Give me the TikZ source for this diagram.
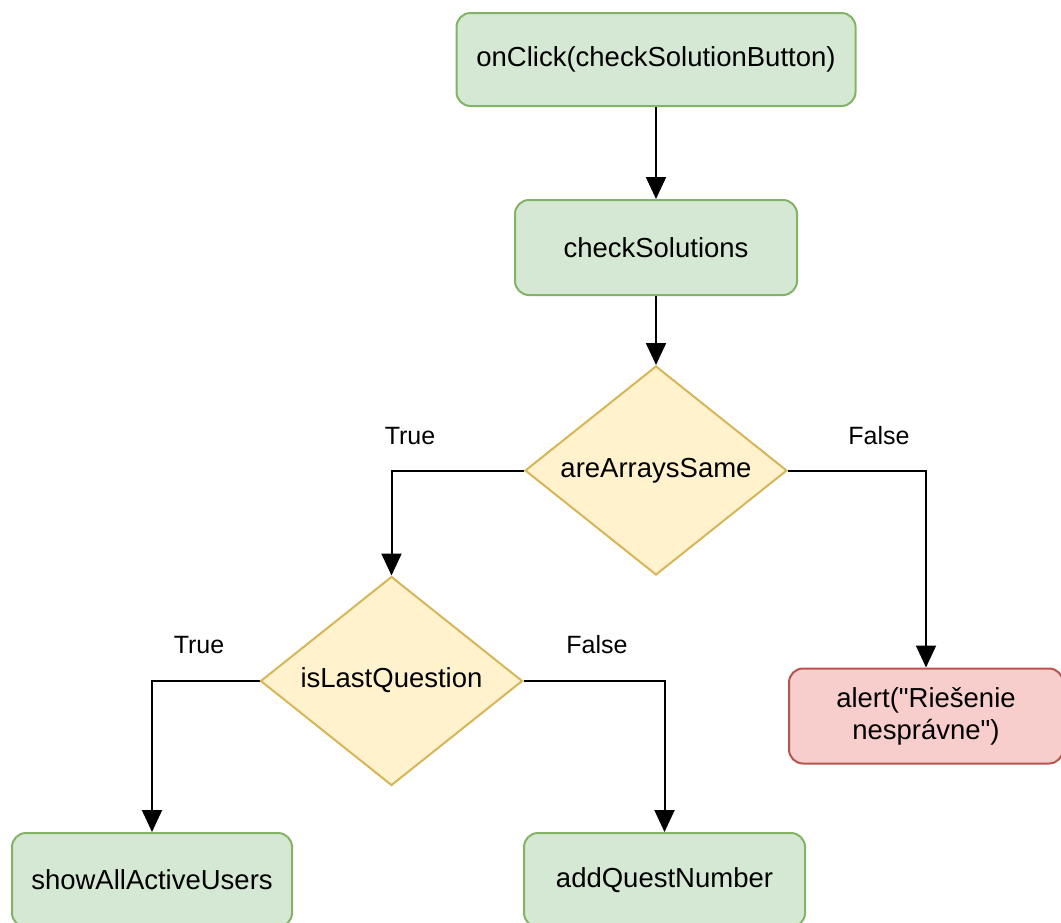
\documentclass[tikz,border=0pt]{standalone}
\usepackage{fontspec}
\setmainfont{Liberation Sans}
\usetikzlibrary{shapes.geometric,arrows.meta}
\definecolor{gfill}{HTML}{D5E8D4}
\definecolor{gline}{HTML}{82B366}
\definecolor{yfill}{HTML}{FFF2CC}
\definecolor{yline}{HTML}{D6B656}
\definecolor{rfill}{HTML}{F8CECC}
\definecolor{rline}{HTML}{B85450}
\tikzset{
  boxbase/.style={rectangle, rounded corners=14pt, line width=2pt, inner sep=0pt,
    align=center, font=\fontsize{27.5}{32}\selectfont},
  greenbox/.style={boxbase, fill=gfill, draw=gline},
  redbox/.style={boxbase, fill=rfill, draw=rline},
  decision/.style={diamond, fill=yfill, draw=yline, line width=2pt, inner sep=0pt,
    aspect=1.25, minimum width=262pt, minimum height=209pt,
    font=\fontsize{27.5}{32}\selectfont},
  flow/.style={line width=2pt, -{Triangle[width=20pt,length=22pt]}},
  edgelabel/.style={font=\fontsize{25}{30}\selectfont, inner sep=0pt}
}
\begin{document}
\begin{tikzpicture}[x=1pt, y=-1pt]
  \useasboundingbox (0,0) rectangle (1061,922);
  \clip (0,0) rectangle (1061,922);

  % process steps
  \node[greenbox, minimum width=399pt, minimum height=93pt] (click) at (656,59.5) {onClick(checkSolutionButton)};
  \node[greenbox, minimum width=282pt, minimum height=95pt] (check) at (656,247.5) {checkSolutions};
  \node[decision] (same) at (656,470.5) {areArraysSame};
  \node[decision] (last) at (391.5,681) {\raisebox{6pt}{isLastQuestion}};
  \node[redbox, minimum width=274pt, minimum height=95pt] (alert) at (926,716)
    {alert(\textquotedbl Riešenie\\nesprávne\textquotedbl)};
  \node[greenbox, minimum width=280pt, minimum height=94pt] (show) at (152,880) {showAllActiveUsers};
  \node[greenbox, minimum width=281pt, minimum height=94pt] (add) at (664.5,880) {addQuestNumber};

  % branch labels
  \node[edgelabel] (t1) at (410,436) {True};
  \node[edgelabel] (f1) at (879,436) {False};
  \node[edgelabel] (t2) at (199,645) {True};
  \node[edgelabel] (f2) at (597,645) {False};

  % connectors
  \draw[flow] (click) -- (check);
  \draw[flow] (check) -- (same);
  \draw[flow] (same.west) -| (last.north);
  \draw[flow] (same.east) -| (alert.north);
  \draw[flow] (last.west) -| (show.north);
  \draw[flow] (last.east) -| (add.north);
\end{tikzpicture}
\end{document}
